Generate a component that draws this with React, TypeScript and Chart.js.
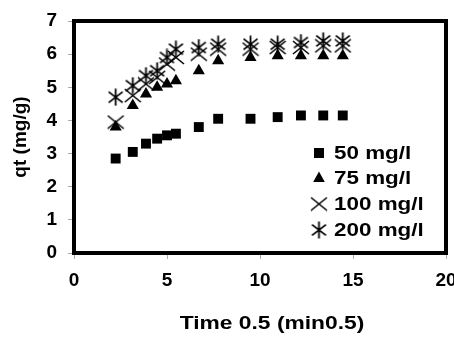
import React, { useEffect, useRef } from "react";
import { Chart, registerables } from "chart.js";

Chart.register(...registerables);

// ---- data ----
const timeRoot = [2.24, 3.16, 3.87, 4.47, 5.0, 5.48, 6.71, 7.75, 9.49, 10.95, 12.2, 13.4, 14.45];
const q50 = [2.85, 3.05, 3.3, 3.45, 3.55, 3.6, 3.8, 4.05, 4.05, 4.1, 4.15, 4.15, 4.15];
const q75 = [3.8, 4.45, 4.8, 5.0, 5.1, 5.2, 5.5, 5.8, 5.9, 5.95, 5.95, 5.95, 5.95];
const q100 = [3.95, 4.75, 5.1, 5.3, 5.7, 5.9, 6.0, 6.15, 6.15, 6.2, 6.2, 6.25, 6.25];
const q200 = [4.7, 5.05, 5.35, 5.5, 5.9, 6.15, 6.2, 6.3, 6.3, 6.3, 6.35, 6.4, 6.4];
const seriesLabels = ["50 mg/l", "75 mg/l", "100 mg/l", "200 mg/l"];
const xMin = 0, xMax = 20, xStep = 5;
const yMin = 0, yMax = 7, yStep = 1;
const xTitle = "Time 0.5 (min0.5)";
const yTitle = "qt (mg/g)";

const FONT = "'Liberation Sans', Arial, sans-serif";

function makeCross(w: number, h: number, lw: number): HTMLCanvasElement {
  const c = document.createElement("canvas");
  c.width = w; c.height = h;
  const ctx = c.getContext("2d")!;
  ctx.strokeStyle = "#000";
  ctx.lineWidth = lw;
  ctx.beginPath();
  ctx.moveTo(1, 1); ctx.lineTo(w - 1, h - 1);
  ctx.moveTo(w - 1, 1); ctx.lineTo(1, h - 1);
  ctx.stroke();
  return c;
}

function makeAsterisk(w: number, h: number, lw: number): HTMLCanvasElement {
  const c = document.createElement("canvas");
  c.width = w; c.height = h;
  const ctx = c.getContext("2d")!;
  ctx.strokeStyle = "#000";
  ctx.lineWidth = lw;
  ctx.beginPath();
  ctx.moveTo(w / 2, 0.5); ctx.lineTo(w / 2, h - 0.5);
  ctx.moveTo(1.5, h * 0.2); ctx.lineTo(w - 1.5, h * 0.8);
  ctx.moveTo(w - 1.5, h * 0.2); ctx.lineTo(1.5, h * 0.8);
  ctx.stroke();
  return c;
}

export default function App() {
  const ref = useRef<HTMLCanvasElement | null>(null);

  useEffect(() => {
    const canvas = ref.current;
    if (!canvas) return;
    const crossImg = makeCross(18, 15, 1.6);
    const starImg = makeAsterisk(17, 18, 1.8);

    const toPts = (ys: number[]) => ys.map((y, i) => ({ x: timeRoot[i], y }));

    const stretchText = (ctx: CanvasRenderingContext2D, text: string, x: number, y: number, align: "left" | "center", sx: number) => {
      ctx.save();
      ctx.translate(x, y);
      ctx.scale(sx, 1);
      ctx.textAlign = align;
      ctx.fillText(text, 0, 0);
      ctx.restore();
    };

    const framePlugin = {
      id: "frameLegend",
      afterDraw(chart: any) {
        const { ctx, chartArea } = chart;
        ctx.save();
        ctx.strokeStyle = "#000";
        ctx.lineWidth = 4;
        ctx.strokeRect(chartArea.left, chartArea.top, chartArea.right - chartArea.left, chartArea.bottom - chartArea.top);

        // legend
        const rowY = [153, 178, 204, 230];
        const symX = 319;
        const textX = 334;
        ctx.font = `bold 19px ${FONT}`;
        ctx.textBaseline = "middle";
        ctx.fillStyle = "#000";
        chart.data.datasets.forEach((ds: any, i: number) => {
          const y = rowY[i];
          if (i === 0) {
            ctx.fillRect(symX - 5, y - 5, 10, 10);
          } else if (i === 1) {
            ctx.beginPath();
            ctx.moveTo(symX, y - 6.5);
            ctx.lineTo(symX + 5.8, y + 4);
            ctx.lineTo(symX - 5.8, y + 4);
            ctx.closePath();
            ctx.fill();
          } else if (i === 2) {
            ctx.drawImage(crossImg, symX - crossImg.width / 2, y - crossImg.height / 2);
          } else {
            ctx.drawImage(starImg, symX - starImg.width / 2, y - starImg.height / 2);
          }
          stretchText(ctx, ds.label, textX, y + 1, "left", 1.18);
        });

        // x axis title
        stretchText(ctx, xTitle, 272, 324, "center", 1.2);
        ctx.restore();
      },
    };

    const chart = new Chart(canvas, {
      type: "scatter",
      data: {
        datasets: [
          { label: seriesLabels[0], data: toPts(q50), pointStyle: "rect", pointRadius: 7, backgroundColor: "#000", borderColor: "#000", borderWidth: 0, showLine: false },
          { label: seriesLabels[1], data: toPts(q75), pointStyle: "triangle", pointRadius: 7, backgroundColor: "#000", borderColor: "#000", borderWidth: 0, showLine: false },
          { label: seriesLabels[2], data: toPts(q100), pointStyle: crossImg as any, pointRadius: 8, backgroundColor: "#000", borderColor: "#000", showLine: false },
          { label: seriesLabels[3], data: toPts(q200), pointStyle: starImg as any, pointRadius: 8, backgroundColor: "#000", borderColor: "#000", showLine: false },
        ],
      },
      options: {
        responsive: false,
        animation: false,
        devicePixelRatio: 1,
        layout: { autoPadding: false, padding: { top: 21, right: 8, left: 0, bottom: 0 } },
        plugins: { legend: { display: false }, tooltip: { enabled: false } },
        scales: {
          x: {
            type: "linear",
            min: xMin,
            max: xMax,
            afterFit: (s: any) => { s.height = 85; s.paddingLeft = 0; s.paddingRight = 0; },
            ticks: { stepSize: xStep, color: "#000", font: { family: FONT, size: 19, weight: "bold" }, padding: 10, maxRotation: 0 },
            grid: { display: true, drawOnChartArea: false, drawTicks: true, tickLength: 6, color: "#aaa" },
            border: { display: false },
            title: { display: false, text: xTitle },
          },
          y: {
            type: "linear",
            min: yMin,
            max: yMax,
            afterFit: (s: any) => { s.width = 74; s.paddingTop = 0; s.paddingBottom = 0; },
            ticks: { stepSize: yStep, color: "#000", font: { family: FONT, size: 19, weight: "bold" }, padding: 11 },
            grid: { display: true, drawOnChartArea: false, drawTicks: true, tickLength: 6, color: "#aaa" },
            border: { display: false },
            title: { display: true, text: yTitle, color: "#000", font: { family: FONT, size: 19, weight: "bold" }, padding: { top: 9, bottom: 0 } },
          },
        },
      },
      plugins: [framePlugin],
    } as any);

    return () => chart.destroy();
  }, []);

  return (
    <div style={{ position: "absolute", left: 0, top: 0, width: 454, height: 338, overflow: "hidden", background: "#fff" }}>
      <canvas ref={ref} width={454} height={338} style={{ display: "block" }} />
    </div>
  );
}
